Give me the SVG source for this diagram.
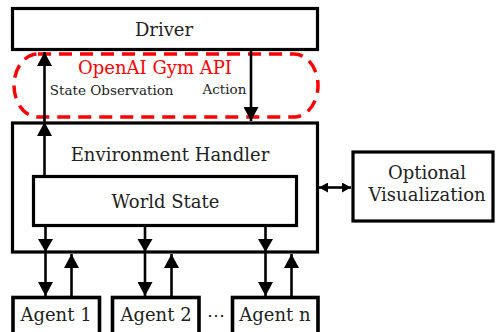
<svg xmlns="http://www.w3.org/2000/svg" width="497" height="332" viewBox="0 0 497 332">
<defs>
<marker id="ah" viewBox="0 0 14 15" refX="14" refY="7.5" markerWidth="14" markerHeight="15" markerUnits="userSpaceOnUse" orient="auto">
<path d="M0,0 L14,7.5 L0,15 Z" fill="#000"/>
</marker>
<marker id="sh" viewBox="0 0 9 10" refX="9" refY="5" markerWidth="9" markerHeight="10" markerUnits="userSpaceOnUse" orient="auto-start-reverse">
<path d="M0,0 L9,5 L0,10 Z" fill="#000"/>
</marker>
<style>
.box{fill:#fff;stroke:#000;stroke-width:3.2}
.ab{fill:#fff;stroke:#000;stroke-width:3.6}
.t{font-family:"DejaVu Serif",serif;fill:#222;text-anchor:middle}
.big{font-size:18px}
.small{font-size:13.5px}
.ln{stroke:#000;stroke-width:2.6;fill:none}
</style>
</defs>
<rect width="497" height="332" fill="#fff"/>
<g id="driver">
<rect class="box" x="12.5" y="8.5" width="305" height="41"/>
<text class="t big" x="164" y="36">Driver</text>
</g>
<g id="api">
<rect x="14" y="54" width="304" height="63" rx="24" ry="31.5" fill="none" stroke="#f00" stroke-width="3.5" stroke-dasharray="13 8"/>
<text class="t big" x="155" y="74" style="fill:#f00">OpenAI Gym API</text>
<text class="t small" x="111.7" y="94.5">State Observation</text>
<text class="t small" x="224.4" y="94">Action</text>
</g>
<g id="env">
<rect class="box" x="12.5" y="123" width="305" height="129"/>
<text class="t big" x="170" y="161">Environment Handler</text>
</g>
<g id="world">
<rect class="box" x="33.5" y="176.5" width="263" height="49"/>
<text class="t big" x="165.5" y="207.5">World State</text>
</g>
<g id="viz">
<rect class="box" x="353" y="152" width="140" height="69"/>
<text class="t big" x="427" y="179">Optional</text>
<text class="t big" x="427" y="201">Visualization</text>
</g>
<g id="agent1">
<rect class="ab" x="13" y="297.5" width="86.5" height="40"/>
<text class="t big" x="56" y="320.5">Agent 1</text>
</g>
<g id="agent2">
<rect class="ab" x="112.5" y="297.5" width="86.5" height="40"/>
<text class="t big" x="156" y="320.5">Agent 2</text>
</g>
<text class="t big" x="216" y="320.5">⋯</text>
<g id="agentn">
<rect class="ab" x="232.5" y="297.5" width="85.5" height="40"/>
<text class="t big" x="275" y="320.5">Agent n</text>
</g>
<g id="connectors">
<line class="ln" x1="44.5" y1="176" x2="44.5" y2="52" marker-end="url(#ah)"/>
<path d="M37,136 L44.5,122 L52,136 Z" fill="#000"/>
<line class="ln" x1="251" y1="50" x2="251" y2="121" marker-end="url(#ah)"/>
<line class="ln" x1="45.5" y1="226" x2="45.5" y2="296" marker-end="url(#ah)"/>
<path d="M38,239 L45.5,252 L53,239 Z" fill="#000"/>
<line class="ln" x1="71.5" y1="297" x2="71.5" y2="254" marker-end="url(#ah)"/>
<line class="ln" x1="145" y1="226" x2="145" y2="296" marker-end="url(#ah)"/>
<path d="M137.5,239 L145,252 L152.5,239 Z" fill="#000"/>
<line class="ln" x1="171.5" y1="297" x2="171.5" y2="254" marker-end="url(#ah)"/>
<line class="ln" x1="265.5" y1="226" x2="265.5" y2="296" marker-end="url(#ah)"/>
<path d="M258,239 L265.5,252 L273,239 Z" fill="#000"/>
<line class="ln" x1="291.5" y1="297" x2="291.5" y2="254" marker-end="url(#ah)"/>
<line class="ln" x1="319" y1="187.5" x2="351" y2="187.5" marker-start="url(#sh)" marker-end="url(#sh)"/>
</g>
</svg>
